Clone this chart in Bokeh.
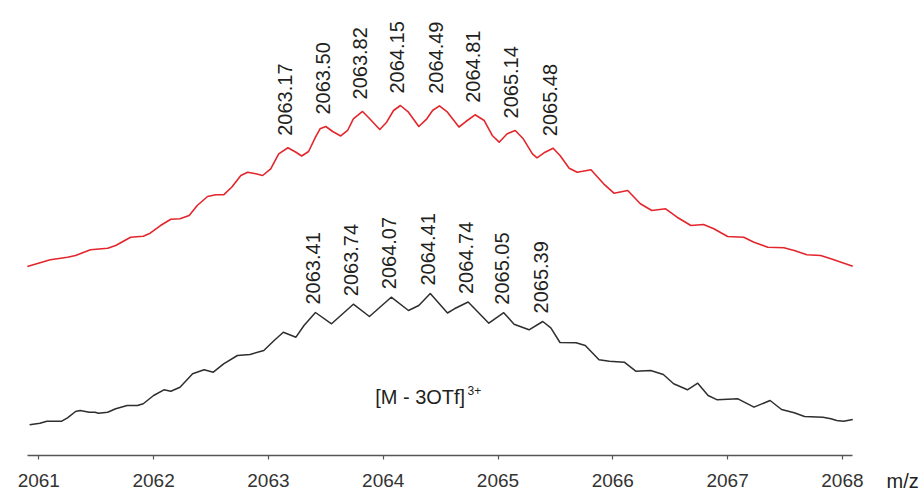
import math
from bokeh.plotting import figure
from bokeh.models import FixedTicker, Label, ColumnDataSource
from bokeh.embed import file_html
from bokeh.resources import INLINE
from bokeh.core.properties import value

# ---- data ----
red_mz = [2060.90, 2061.10, 2061.25, 2061.32, 2061.45, 2061.60, 2061.67, 2061.80, 2061.91, 2061.97,
          2062.06, 2062.15, 2062.23, 2062.31, 2062.38, 2062.47, 2062.54, 2062.61, 2062.68, 2062.76,
          2062.82, 2062.89, 2062.95, 2063.02, 2063.09, 2063.17, 2063.24, 2063.29, 2063.35, 2063.41,
          2063.45, 2063.50, 2063.56, 2063.63, 2063.69, 2063.74, 2063.82, 2063.87, 2063.97, 2064.03,
          2064.09, 2064.15, 2064.22, 2064.31, 2064.38, 2064.43, 2064.49, 2064.56, 2064.66, 2064.72,
          2064.80, 2064.88, 2064.95, 2065.01, 2065.08, 2065.15, 2065.22, 2065.30, 2065.34, 2065.41,
          2065.48, 2065.54, 2065.62, 2065.69, 2065.81, 2065.92, 2066.01, 2066.13, 2066.24, 2066.34,
          2066.46, 2066.56, 2066.68, 2066.79, 2066.88, 2067.00, 2067.14, 2067.23, 2067.35, 2067.49,
          2067.58, 2067.69, 2067.81, 2067.90, 2068.09]
red_int = [42.28, 43.78, 44.36, 44.74, 46.02, 46.38, 46.98, 48.84, 49.06, 49.73,
           51.45, 52.86, 52.95, 53.69, 55.93, 57.94, 58.32, 58.32, 60.02, 62.64,
           63.38, 63.02, 62.64, 64.14, 67.49, 68.84, 67.85, 67.00, 68.01, 71.21,
           73.09, 73.60, 72.48, 71.48, 72.71, 75.32, 76.96, 75.68, 72.93, 74.56,
           77.18, 78.30, 76.80, 73.60, 75.32, 77.18, 78.23, 76.80, 73.49, 74.72,
           76.22, 74.94, 71.59, 70.09, 71.97, 72.71, 70.85, 67.49, 66.60, 67.85,
           68.75, 67.11, 64.27, 63.38, 63.91, 60.78, 58.68, 59.28, 56.31, 54.81,
           55.19, 53.31, 51.45, 51.68, 50.72, 48.99, 48.84, 47.72, 46.60, 46.47,
           45.86, 44.90, 44.74, 44.00, 42.35]

black_mz = [2060.92, 2061.01, 2061.07, 2061.20, 2061.25, 2061.32, 2061.36, 2061.44, 2061.49, 2061.52,
            2061.60, 2061.67, 2061.77, 2061.86, 2061.91, 2062.00, 2062.09, 2062.15, 2062.23, 2062.34,
            2062.44, 2062.52, 2062.61, 2062.73, 2062.84, 2062.96, 2063.05, 2063.13, 2063.24, 2063.31,
            2063.41, 2063.55, 2063.74, 2063.88, 2064.07, 2064.22, 2064.31, 2064.41, 2064.56, 2064.62,
            2064.74, 2064.92, 2065.05, 2065.14, 2065.27, 2065.39, 2065.46, 2065.54, 2065.68, 2065.76,
            2065.88, 2065.97, 2066.10, 2066.20, 2066.33, 2066.44, 2066.53, 2066.65, 2066.74, 2066.83,
            2066.91, 2067.09, 2067.23, 2067.37, 2067.47, 2067.58, 2067.67, 2067.83, 2067.90, 2067.95,
            2068.01, 2068.09]
black_int = [6.87, 7.23, 7.67, 7.67, 8.43, 9.84, 10.07, 9.69, 9.69, 9.46,
             9.69, 10.45, 11.19, 11.19, 11.57, 13.42, 14.70, 14.38, 15.28, 18.28,
             19.17, 18.64, 20.51, 22.37, 22.60, 23.49, 25.73, 27.58, 26.47, 29.08,
             31.99, 29.46, 33.85, 31.10, 35.41, 32.44, 33.56, 36.24, 31.88, 32.82,
             34.34, 29.60, 31.95, 29.37, 28.12, 29.98, 28.57, 25.28, 25.21, 24.61,
             21.41, 21.10, 20.87, 18.86, 19.02, 18.12, 16.04, 14.70, 16.17, 13.42,
             12.46, 12.68, 10.81, 12.30, 10.29, 9.55, 8.72, 8.57, 8.21, 7.83,
             7.67, 8.05]

red_peak_mz = [2063.17, 2063.50, 2063.82, 2064.15, 2064.49, 2064.81, 2065.14, 2065.48]
red_peak_int = [68.84, 73.60, 76.96, 78.30, 78.23, 76.22, 72.71, 68.75]
red_peak_text = ["2063.17", "2063.50", "2063.82", "2064.15", "2064.49", "2064.81", "2065.14", "2065.48"]

black_peak_mz = [2063.41, 2063.74, 2064.07, 2064.41, 2064.74, 2065.05, 2065.39]
black_peak_int = [31.99, 33.85, 35.41, 36.24, 34.34, 31.95, 29.98]
black_peak_text = ["2063.41", "2063.74", "2064.07", "2064.41", "2064.74", "2065.05", "2065.39"]

x_ticks = [2061, 2062, 2063, 2064, 2065, 2066, 2067, 2068]

# ---- figure ----
FONT = "Liberation Sans"
TXT = "#231f20"

p = figure(width=924, height=492, frame_width=924, frame_height=484,
           x_range=(2060.6664, 2068.715), y_range=(-8.277, 100),
           output_backend="svg", toolbar_location=None, y_axis_location=None,
           min_border_left=0, min_border_right=0, min_border_top=8, min_border_bottom=0)
p.outline_line_color = None
p.grid.visible = False
p.background_fill_color = "white"

ax = p.xaxis[0]
ax.fixed_location = 0
ax.bounds = (2060.899, 2068.088)
ax.ticker = FixedTicker(ticks=x_ticks)
ax.axis_line_color = "#555555"
ax.axis_line_width = 1.3
ax.major_tick_line_color = "#555555"
ax.major_tick_line_width = 1.2
ax.major_tick_in = 0
ax.major_tick_out = 4
ax.minor_tick_line_color = None
ax.major_label_standoff = 14
ax.major_label_text_font = FONT
ax.major_label_text_font_size = "19px"
ax.major_label_text_color = "#333333"

p.line(red_mz, red_int, line_color="#e3262b", line_width=1.6, line_join="round")
p.line(black_mz, black_int, line_color="#2e2e2e", line_width=1.5, line_join="round")

red_src = ColumnDataSource(dict(x=red_peak_mz, y=red_peak_int, t=red_peak_text))
black_src = ColumnDataSource(dict(x=black_peak_mz, y=black_peak_int, t=black_peak_text))
p.text(x="x", y="y", text="t", source=red_src, angle=math.pi / 2, text_align="left",
       text_baseline="middle", text_font=value(FONT), text_font_size="20px",
       text_color=TXT, y_offset=-12, x_offset=-3)
p.text(x="x", y="y", text="t", source=black_src, angle=math.pi / 2, text_align="left",
       text_baseline="middle", text_font=value(FONT), text_font_size="20px",
       text_color=TXT, y_offset=-8, x_offset=-2)

p.add_layout(Label(x=2063.93, y=13.0, text="[M - 3OTf]", text_font=FONT,
                   text_font_size="20px", text_color=TXT, text_baseline="alphabetic"))
p.add_layout(Label(x=2064.735, y=14.6, text="3+", text_font=FONT,
                   text_font_size="12px", text_color=TXT, text_baseline="alphabetic"))
p.add_layout(Label(x=2068.384, y=-5.8, text="m/z", text_font=FONT,
                   text_font_size="20px", text_color=TXT, text_baseline="alphabetic"))

open("out.html", "w").write(file_html(p, INLINE))
